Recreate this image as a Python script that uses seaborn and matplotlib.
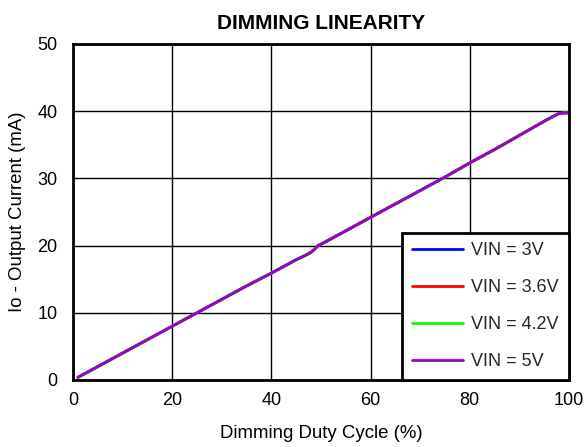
import matplotlib
matplotlib.use("Agg")
import matplotlib.pyplot as plt
import seaborn as sns
import pandas as pd

duty = [1, 5, 10, 15, 20, 25, 30, 35, 40, 45, 47, 48, 48.6, 49.4, 50, 55, 60, 65, 70, 75, 80, 85, 90, 95, 97, 98, 99, 100]
current = [0.4, 2.0, 4.0, 6.0, 8.0, 10.0, 12.0, 14.0, 15.9, 17.9, 18.6, 19.0, 19.4, 20.0, 20.2, 22.2, 24.2, 26.2, 28.2, 30.2, 32.3, 34.3, 36.4, 38.5, 39.3, 39.65, 39.75, 39.75]
series = ["VIN = 3V", "VIN = 3.6V", "VIN = 4.2V", "VIN = 5V"]
colors = ["#0000ff", "#ff0000", "#00ff00", "#9900cc"]

rows = []
for s in series:
    for d, c in zip(duty, current):
        rows.append({"duty": d, "current": c, "series": s})
df = pd.DataFrame(rows)

sns.set_theme(style="white")
plt.rcParams["font.family"] = ["Liberation Sans", "DejaVu Sans"]

fig = plt.figure(figsize=(5.85, 4.47), dpi=100)
ax = fig.add_axes([0.1248, 0.1499, 0.8478, 0.7517])
sns.lineplot(data=df, x="duty", y="current", hue="series", palette=colors,
             hue_order=series, linewidth=2, ax=ax, legend=True)

ax.set_xlim(0, 100)
ax.set_ylim(0, 50)
ax.set_xticks([0, 20, 40, 60, 80, 100])
ax.set_yticks([0, 10, 20, 30, 40, 50])
ax.grid(True, color="black", linewidth=1)
ax.set_axisbelow(True)
for sp in ax.spines.values():
    sp.set_color("black")
    sp.set_linewidth(2)
ax.tick_params(axis="both", labelsize=13, colors="black", length=0)
ax.tick_params(axis="y", pad=11)
ax.tick_params(axis="x", pad=9)
ax.set_xlabel("Dimming Duty Cycle (%)", fontsize=13.4, color="black", labelpad=11)
ax.set_ylabel("Io - Output Current (mA)", fontsize=13.4, color="black", labelpad=8)
ax.set_title("DIMMING LINEARITY", fontsize=15, fontweight="bold", color="black", pad=11)

leg = ax.legend(loc="lower right", fontsize=13, frameon=True, fancybox=False,
                borderaxespad=0, handlelength=2.85, labelspacing=1.1,
                borderpad=0.55, handletextpad=0.45)
leg.get_frame().set_edgecolor("black")
leg.get_frame().set_linewidth(2)
leg.get_frame().set_alpha(1)
for line in leg.get_lines():
    line.set_linewidth(2)

fig.savefig("out.png", dpi=100)
